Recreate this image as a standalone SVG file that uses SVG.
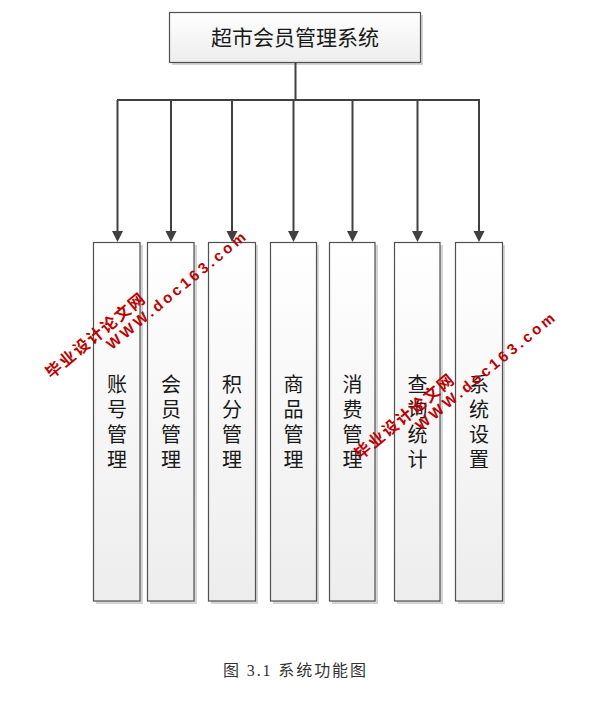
<svg xmlns="http://www.w3.org/2000/svg" width="608" height="706" viewBox="0 0 608 706">
<defs>
<linearGradient id="fillg" x1="0" y1="0" x2="0" y2="1">
<stop offset="0" stop-color="#ffffff"/>
<stop offset="1" stop-color="#ededed"/>
</linearGradient>
<marker id="arr" markerWidth="12" markerHeight="12" refX="5" refY="5.5" orient="auto" markerUnits="userSpaceOnUse">
<path d="M0,0 L11,5.5 L0,11 z" fill="#404040"/>
</marker>
</defs>
<style>
.box{fill:url(#fillg);stroke:#505050;stroke-width:1.2}
.shadow{fill:#d4d4d4}
.lbl{font-family:"Noto Sans CJK SC","Liberation Sans",sans-serif;font-size:20px;fill:#1a1a1a;text-anchor:middle}
.ttl{font-family:"Noto Sans CJK SC","Liberation Sans",sans-serif;font-size:21px;fill:#1a1a1a;text-anchor:middle}
.cap{font-family:"Liberation Serif","Noto Sans CJK SC",serif;font-size:16px;fill:#333}
.conn{stroke:#404040;stroke-width:2;fill:none}
.wm1{font-family:"Noto Sans CJK SC","Liberation Sans",sans-serif;font-weight:bold;font-size:16px;fill:#c00000;letter-spacing:1.8px}
.wm2{font-family:"Liberation Sans","Noto Sans CJK SC",sans-serif;font-weight:bold;font-size:15px;fill:#c00000}
</style>
<rect width="608" height="706" fill="#ffffff"/>

<g id="root">
<rect class="shadow" x="172" y="15" width="251" height="50"/>
<rect class="box" x="169.5" y="12.5" width="251" height="50"/>
<text class="ttl" x="295" y="44.5">超市会员管理系统</text>
</g>

<g id="connectors">
<path class="conn" d="M295.5,62 V100 M117,100 H480"/>
<path class="conn" marker-end="url(#arr)" d="M117.5,100 V236"/>
<path class="conn" marker-end="url(#arr)" d="M171,100 V236"/>
<path class="conn" marker-end="url(#arr)" d="M232,100 V236"/>
<path class="conn" marker-end="url(#arr)" d="M293.5,100 V236"/>
<path class="conn" marker-end="url(#arr)" d="M352.5,100 V236"/>
<path class="conn" marker-end="url(#arr)" d="M417.5,100 V236"/>
<path class="conn" marker-end="url(#arr)" d="M479,100 V236"/>
</g>

<g id="n1">
<rect class="shadow" x="96" y="245" width="47" height="359"/>
<rect class="box" x="93.5" y="242.5" width="46.5" height="358.5"/>
<text class="lbl" x="117" y="391.5">账</text><text class="lbl" x="117" y="416.5">号</text><text class="lbl" x="117" y="441.5">管</text><text class="lbl" x="117" y="466.5">理</text>
</g>
<g id="n2">
<rect class="shadow" x="150" y="245" width="47" height="359"/>
<rect class="box" x="147.5" y="242.5" width="46.5" height="358.5"/>
<text class="lbl" x="171" y="391.5">会</text><text class="lbl" x="171" y="416.5">员</text><text class="lbl" x="171" y="441.5">管</text><text class="lbl" x="171" y="466.5">理</text>
</g>
<g id="n3">
<rect class="shadow" x="211" y="245" width="47" height="359"/>
<rect class="box" x="208.5" y="242.5" width="47" height="358.5"/>
<text class="lbl" x="232" y="391.5">积</text><text class="lbl" x="232" y="416.5">分</text><text class="lbl" x="232" y="441.5">管</text><text class="lbl" x="232" y="466.5">理</text>
</g>
<g id="n4">
<rect class="shadow" x="273" y="245" width="46" height="359"/>
<rect class="box" x="270.5" y="242.5" width="46" height="358.5"/>
<text class="lbl" x="293.5" y="391.5">商</text><text class="lbl" x="293.5" y="416.5">品</text><text class="lbl" x="293.5" y="441.5">管</text><text class="lbl" x="293.5" y="466.5">理</text>
</g>
<g id="n5">
<rect class="shadow" x="332" y="245" width="46" height="359"/>
<rect class="box" x="329.5" y="242.5" width="45.5" height="358.5"/>
<text class="lbl" x="352.5" y="391.5">消</text><text class="lbl" x="352.5" y="416.5">费</text><text class="lbl" x="352.5" y="441.5">管</text><text class="lbl" x="352.5" y="466.5">理</text>
</g>
<g id="n6">
<rect class="shadow" x="397" y="245" width="46" height="359"/>
<rect class="box" x="394.5" y="242.5" width="45.5" height="358.5"/>
<text class="lbl" x="417.5" y="391.5">查</text><text class="lbl" x="417.5" y="416.5">询</text><text class="lbl" x="417.5" y="441.5">统</text><text class="lbl" x="417.5" y="466.5">计</text>
</g>
<g id="n7">
<rect class="shadow" x="458" y="245" width="47" height="359"/>
<rect class="box" x="455.5" y="242.5" width="47" height="358.5"/>
<text class="lbl" x="479" y="391.5">系</text><text class="lbl" x="479" y="416.5">统</text><text class="lbl" x="479" y="441.5">设</text><text class="lbl" x="479" y="466.5">置</text>
</g>

<g id="watermark1" transform="translate(52,380) rotate(-39.5)">
<text class="wm1" x="0" y="-1">毕业设计论文网</text>
<text class="wm2" x="65" y="15" textLength="175" lengthAdjust="spacing">WWW.doc163.com</text>
</g>
<g id="watermark2" transform="translate(361,461) rotate(-39.5)">
<text class="wm1" x="0" y="-1">毕业设计论文网</text>
<text class="wm2" x="65" y="15" textLength="175" lengthAdjust="spacing">WWW.doc163.com</text>
</g>

<text class="cap" x="223" y="676" textLength="143" lengthAdjust="spacing">图 3.1 系统功能图</text>
</svg>
